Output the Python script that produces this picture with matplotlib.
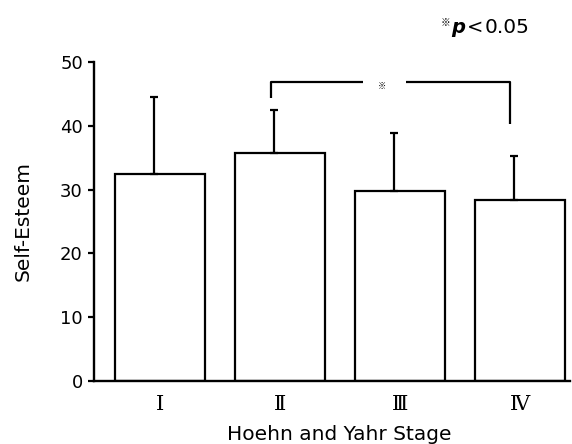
import numpy as np
import matplotlib
matplotlib.use("Agg")
import matplotlib.pyplot as plt

# -------------- DATA ----------------------------------------
stages     = ["Ⅰ", "Ⅱ", "Ⅲ", "Ⅳ"]
means      = [32.5, 35.7, 29.8, 28.3]
sds        = [12.0, 6.8, 9.1, 6.9]
sig_pair   = (1, 3)            # stage II vs stage IV
sig_top    = 46.9
sig_left   = 44.4
sig_right  = 40.3
# -------------------------------------------------------------

plt.rcParams["font.family"] = ["DejaVu Sans"]

fig = plt.figure(figsize=(5.72, 4.44), dpi=100)
ax = fig.add_axes([0.1643, 0.1419, 0.8327, 0.7185])

x = np.arange(len(stages))
ax.bar(x, means, width=0.745, color="white", edgecolor="black", linewidth=1.6, zorder=2)

# upper-only error bars, drawn a touch left of centre like the original
err_x = x - 0.046
ax.errorbar(err_x, means, yerr=[np.zeros(len(sds)), sds], fmt="none",
            ecolor="black", elinewidth=1.6, capsize=2.7, capthick=1.6, zorder=3)

# significance bracket
xl = sig_pair[0] - 0.078
xr = sig_pair[1] - 0.081
ax.plot([xl, xl, 1.689], [sig_left, sig_top, sig_top], color="black", lw=1.6,
        solid_capstyle="butt", clip_on=False)
ax.plot([2.047, xr, xr], [sig_top, sig_top, sig_right], color="black", lw=1.6,
        solid_capstyle="butt", clip_on=False)
ax.text(1.85, 46.1, "※", ha="center", va="center", fontsize=6,
        family=["Noto Sans CJK JP", "DejaVu Sans"])

ax.set_xlim(-0.55, 3.42)
ax.set_ylim(0, 50)
ax.set_yticks([0, 10, 20, 30, 40, 50])
ax.set_xticks(x)
ax.set_xticklabels(stages, family=["DejaVu Serif", "Noto Sans CJK JP"], fontsize=15)
ax.tick_params(axis="x", length=0, pad=10)
ax.tick_params(axis="y", direction="out", length=4, width=1.6, labelsize=13, pad=4)

for s in ["top", "right"]:
    ax.spines[s].set_visible(False)
for s in ["left", "bottom"]:
    ax.spines[s].set_linewidth(1.7)

ax.set_ylabel("Self-Esteem", fontsize=14.5)
ax.yaxis.set_label_coords(-0.128, 0.5)
ax.set_xlabel("Hoehn and Yahr Stage", fontsize=14.5)
ax.xaxis.set_label_coords(0.515, -0.139)

# p-value note
fig.text(441 / 572, 1 - 23 / 444, "※", ha="left", va="center", fontsize=7,
         family=["Noto Sans CJK JP", "DejaVu Sans"])
fig.text(451 / 572, 1 - 33 / 444, "p", ha="left", va="baseline", fontsize=14,
         fontweight="bold", fontstyle="italic")
fig.text(467 / 572, 1 - 33 / 444, "<", ha="left", va="baseline", fontsize=14)
fig.text(485 / 572, 1 - 33 / 444, "0.05", ha="left", va="baseline", fontsize=14.5)

fig.savefig("out.png", dpi=100)
